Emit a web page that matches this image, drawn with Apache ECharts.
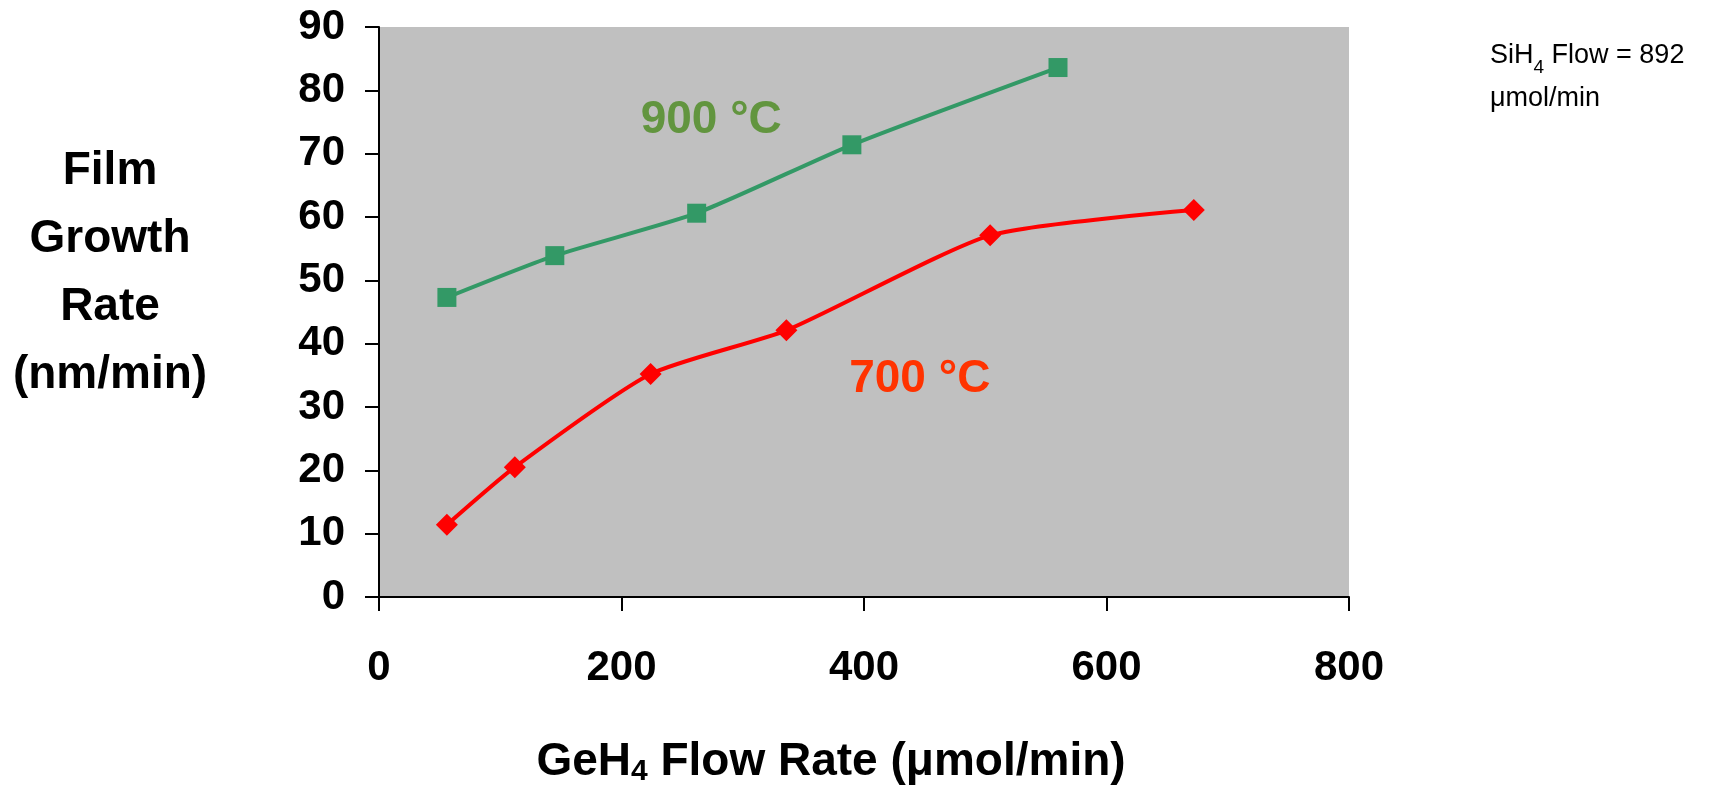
<!DOCTYPE html>
<html>
<head>
<meta charset="utf-8">
<script src="https://cdn.jsdelivr.net/npm/echarts@6/dist/echarts.min.js"></script>
<style>
  html, body { margin: 0; padding: 0; background: #fff; }
  #main { width: 1732px; height: 792px; }
</style>
</head>
<body>
<div id="main"></div>
<script>
// GeH4 flow (umol/min) vs film growth rate (nm/min)
var flow900 = [56, 145, 262, 390, 560];
var rate900 = [47.3, 53.9, 60.6, 71.4, 83.6];
var flow700 = [56, 112, 224, 336, 504, 672];
var rate700 = [11.4, 20.5, 35.2, 42.1, 57.1, 61.1];

// series labels, placed in data space
var label900 = { text: "900 °C", at: [274, 75.2] };
var label700 = { text: "700 °C", at: [446, 34.4] };

var FONT = "Liberation Sans, Arial, sans-serif";

function pairs(xs, ys) {
  return xs.map(function (x, i) { return [x, ys[i]]; });
}

var myChart = echarts.init(document.getElementById("main"));

myChart.setOption({
  animation: false,
  backgroundColor: "#ffffff",
  grid: {
    left: 379,
    right: 383,
    top: 27,
    bottom: 192,
    show: true,
    backgroundColor: "#c0c0c0",
    borderWidth: 0
  },
  xAxis: {
    type: "value",
    min: 0,
    max: 800,
    interval: 200,
    splitLine: { show: false },
    axisLine: { lineStyle: { color: "#000", width: 2 } },
    axisTick: { show: true, length: 14, lineStyle: { color: "#000", width: 2 } },
    axisLabel: { color: "#000", fontSize: 42, fontWeight: "bold", fontFamily: FONT, margin: 50 },
    name: "{b|GeH}{s|4}{b| Flow Rate (μmol/min)}",
    nameLocation: "middle",
    nameGap: 140,
    nameTextStyle: {
      padding: [0, 66, 0, 0],
      rich: {
        b: { fontSize: 46, fontWeight: "bold", fontFamily: FONT, color: "#000", lineHeight: 50 },
        s: { fontSize: 30, fontWeight: "bold", fontFamily: FONT, color: "#000", lineHeight: 22, verticalAlign: "bottom" }
      }
    }
  },
  yAxis: {
    type: "value",
    min: 0,
    max: 90,
    interval: 10,
    splitLine: { show: false },
    axisLine: { show: true, lineStyle: { color: "#000", width: 2 } },
    axisTick: { show: true, length: 14, lineStyle: { color: "#000", width: 2 } },
    axisLabel: { color: "#000", fontSize: 42, fontWeight: "bold", fontFamily: FONT, margin: 34 }
  },
  graphic: [
    {
      type: "text",
      x: 110,
      y: 273,
      style: {
        text: "Film\nGrowth\nRate\n(nm/min)",
        fill: "#000",
        font: "bold 46px " + FONT,
        lineHeight: 68,
        align: "center",
        verticalAlign: "middle"
      }
    },
    {
      type: "text",
      x: 1490,
      y: 34,
      style: {
        text: "{r|SiH}{s|4}{r| Flow = 892}\n{r|μmol/min}",
        rich: {
          r: { fontSize: 27, fontFamily: FONT, fill: "#000", lineHeight: 43 },
          s: { fontSize: 19, fontFamily: FONT, fill: "#000", lineHeight: 20, verticalAlign: "bottom" }
        }
      }
    }
  ],
  series: [
    {
      name: "900 °C",
      type: "line",
      smooth: 0.2,
      data: pairs(flow900, rate900),
      symbol: "rect",
      symbolSize: 19,
      lineStyle: { color: "#339966", width: 4 },
      itemStyle: { color: "#339966" },
      markPoint: {
        symbol: "circle",
        symbolSize: 0,
        silent: true,
        data: [{ coord: label900.at }],
        label: {
          show: true,
          position: "inside",
          formatter: label900.text,
          fontSize: 46,
          fontWeight: "bold",
          fontFamily: FONT,
          color: "#62953f"
        }
      }
    },
    {
      name: "700 °C",
      type: "line",
      smooth: 0.2,
      data: pairs(flow700, rate700),
      symbol: "diamond",
      symbolSize: 22,
      lineStyle: { color: "#ff0000", width: 4 },
      itemStyle: { color: "#ff0000" },
      markPoint: {
        symbol: "circle",
        symbolSize: 0,
        silent: true,
        data: [{ coord: label700.at }],
        label: {
          show: true,
          position: "inside",
          formatter: label700.text,
          fontSize: 46,
          fontWeight: "bold",
          fontFamily: FONT,
          color: "#ff3300"
        }
      }
    }
  ]
});
</script>
</body>
</html>
